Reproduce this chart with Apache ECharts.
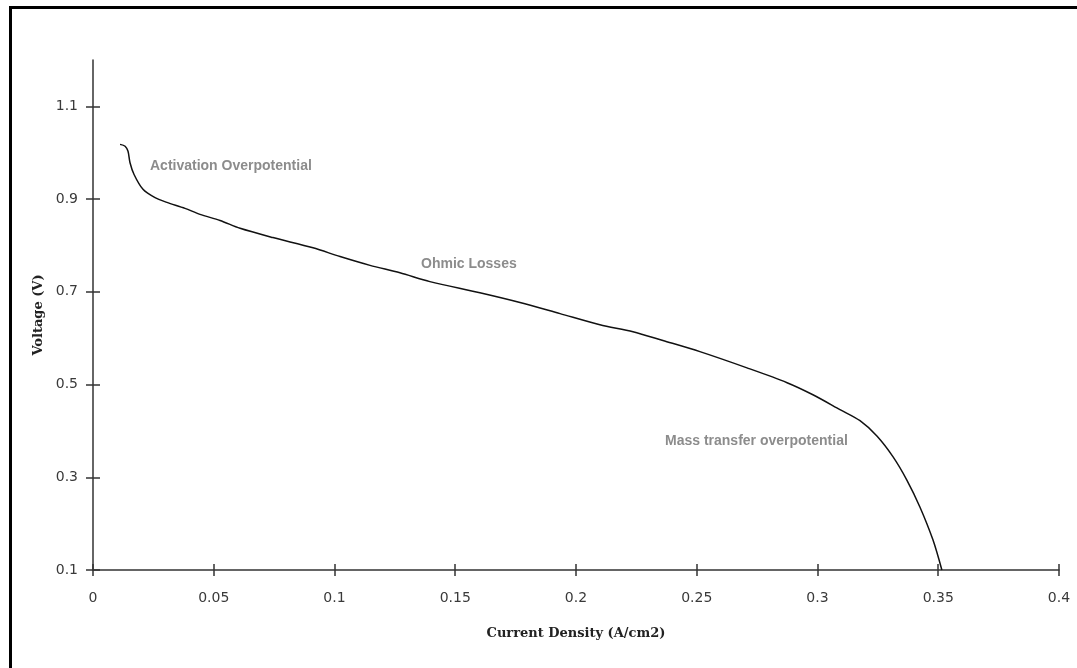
<!DOCTYPE html>
<html>
<head>
<meta charset="utf-8">
<script src="https://cdn.jsdelivr.net/npm/echarts@6/dist/echarts.min.js"></script>
<style>
  html, body { margin: 0; padding: 0; background: #fff; }
  #chart { width: 1077px; height: 668px; }
</style>
</head>
<body>
<div id="chart"></div>
<script>
// polarization curve
var currentDensity = [0.0112, 0.0133, 0.0145, 0.0153, 0.0170, 0.0207, 0.0257, 0.0306, 0.0381, 0.0443,
  0.0526, 0.0609, 0.0745, 0.0911, 0.1023, 0.1147, 0.1271, 0.1395, 0.1602, 0.1768,
  0.1934, 0.2099, 0.2236, 0.2360, 0.2513, 0.2708, 0.2874, 0.2981, 0.3093, 0.3176,
  0.3246, 0.3313, 0.3370, 0.3424, 0.3478, 0.3515];
var voltage = [1.018, 1.014, 1.003, 0.979, 0.953, 0.921, 0.903, 0.893, 0.880, 0.867,
  0.854, 0.837, 0.817, 0.795, 0.776, 0.757, 0.741, 0.722, 0.698, 0.677,
  0.653, 0.629, 0.614, 0.595, 0.571, 0.536, 0.504, 0.478, 0.446, 0.422,
  0.389, 0.344, 0.294, 0.236, 0.165, 0.100];
var yTicks = [0.1, 0.3, 0.5, 0.7, 0.9, 1.1];
var regionNotes = ['Activation Overpotential', 'Ohmic Losses', 'Mass transfer overpotential'];

var chart = echarts.init(document.getElementById('chart'));

var points = currentDensity.map(function (x, i) { return [x, voltage[i]]; });

var lineStyle = { color: '#333', width: 1.5 };
var labelFont = { fontFamily: 'DejaVu Sans', fontSize: 14, color: '#3a3a3a' };
var titleFont = { fontFamily: 'DejaVu Serif', fontWeight: 'bold', fontSize: 13, color: '#222' };
var noteStyle = { fontFamily: 'Liberation Sans', fontWeight: 'bold', fontSize: 14, fill: '#8c8c8c' };

var option = {
  animation: false,
  backgroundColor: '#fff',
  grid: { left: 93, right: 18, top: 60, bottom: 98, containLabel: false },
  xAxis: [
    {
      type: 'value', min: 0, max: 0.4, interval: 0.05,
      name: 'Current Density (A/cm2)', nameLocation: 'middle', nameGap: 57,
      nameTextStyle: titleFont,
      axisLine: { lineStyle: lineStyle },
      axisTick: { length: 6, lineStyle: lineStyle },
      axisLabel: Object.assign({ margin: 21 }, labelFont),
      splitLine: { show: false }
    },
    {
      // second copy just for the inner half of each tick
      type: 'value', min: 0, max: 0.4, interval: 0.05, position: 'bottom',
      axisLine: { show: false },
      axisTick: { inside: true, length: 6, lineStyle: lineStyle },
      axisLabel: { show: false },
      splitLine: { show: false }
    }
  ],
  yAxis: [
    {
      type: 'value', min: 0.1, max: 1.2,
      name: 'Voltage (V)', nameLocation: 'middle', nameGap: 48,
      nameTextStyle: titleFont,
      axisLine: { show: true, lineStyle: lineStyle },
      axisTick: { show: true, length: 7, customValues: yTicks, lineStyle: lineStyle },
      axisLabel: Object.assign({ margin: 15, customValues: yTicks }, labelFont),
      splitLine: { show: false }
    },
    {
      type: 'value', min: 0.1, max: 1.2, position: 'left',
      axisLine: { show: false },
      axisTick: { show: true, inside: true, length: 7, customValues: yTicks, lineStyle: lineStyle },
      axisLabel: { show: false },
      splitLine: { show: false }
    }
  ],
  series: [
    {
      type: 'line',
      data: points,
      smooth: 0.3,
      showSymbol: false,
      lineStyle: { color: '#111', width: 1.5 },
      xAxisIndex: 0,
      yAxisIndex: 0
    }
  ],
  graphic: [
    {
      type: 'rect', left: 8, top: 5, silent: true,
      shape: { width: 1200, height: 1000 },
      style: { fill: 'none', stroke: '#000', lineWidth: 3 }
    },
    { type: 'text', left: 150, top: 159, style: Object.assign({ text: regionNotes[0] }, noteStyle) },
    { type: 'text', left: 421, top: 257, style: Object.assign({ text: regionNotes[1] }, noteStyle) },
    { type: 'text', left: 665, top: 434, style: Object.assign({ text: regionNotes[2] }, noteStyle) }
  ]
};

chart.setOption(option);
</script>
</body>
</html>
